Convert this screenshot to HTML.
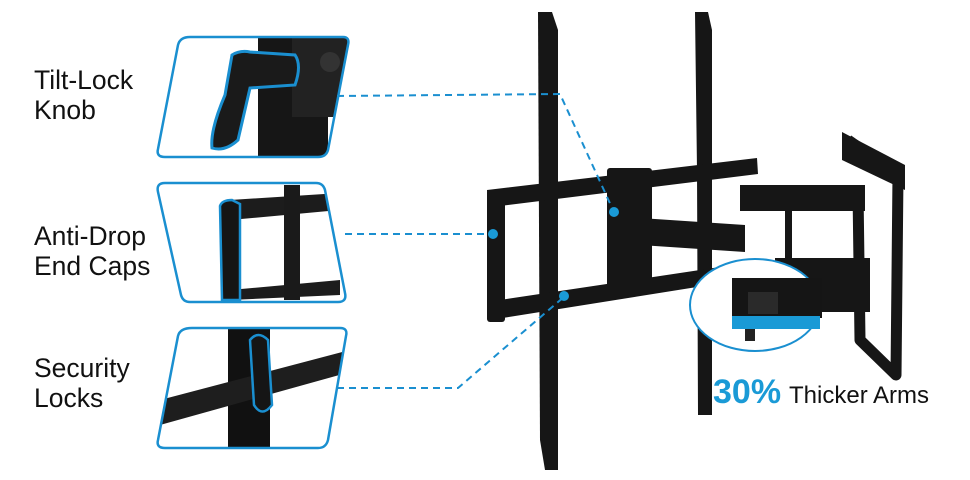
<!DOCTYPE html>
<html><head><meta charset="utf-8"><style>
html,body{margin:0;padding:0;background:#fff;}
svg{display:block;}
text{font-family:"Liberation Sans",sans-serif;}
</style></head><body>
<svg width="970" height="480" viewBox="0 0 970 480" xmlns="http://www.w3.org/2000/svg">
<defs>
<clipPath id="c1"><path d="M190 37 H343 Q350 37 348 45 L328 150 Q326 157 318 157 H165 Q156 157 158 149 L178 45 Q180 37 190 37Z"/></clipPath>
<clipPath id="c2"><path d="M165 183 H316 Q323 183 325 190 L345 293 Q347 302 338 302 H190 Q183 302 181 295 L158 192 Q156 183 165 183Z"/></clipPath>
<clipPath id="c3"><path d="M192 328 H340 Q348 328 346 336 L328 440 Q326 448 318 448 H165 Q156 448 158 440 L178 336 Q180 328 192 328Z"/></clipPath>
</defs>
<g font-size="26.5" fill="#111">
<text x="34" y="89">Tilt-Lock</text><text x="34" y="119">Knob</text>
<text x="34" y="245">Anti-Drop</text><text x="34" y="275">End Caps</text>
<text x="34" y="377">Security</text><text x="34" y="407">Locks</text>
</g>
<g clip-path="url(#c1)">
<rect x="258" y="37" width="70" height="120" fill="#161616"/>
<rect x="292" y="37" width="60" height="80" fill="#222"/>
<circle cx="330" cy="62" r="10" fill="#333"/>
<path d="M232 55 Q240 50 250 52 L295 55 Q302 65 295 85 L250 88 L238 140 Q225 152 212 148 Q210 130 225 95 Z" fill="#1a1a1a" stroke="#1a8fd0" stroke-width="3"/>
</g>
<path d="M190 37 H343 Q350 37 348 45 L328 150 Q326 157 318 157 H165 Q156 157 158 149 L178 45 Q180 37 190 37Z" fill="none" stroke="#1a8fd0" stroke-width="2.5"/>
<g clip-path="url(#c2)">
<path d="M230 200 L340 193 L340 210 L230 220Z" fill="#1c1c1c"/>
<path d="M230 290 L340 280 L340 295 L230 300Z" fill="#1c1c1c"/>
<rect x="284" y="185" width="16" height="115" fill="#1a1a1a"/>
<path d="M220 206 Q222 200 232 200 L240 204 L240 300 L222 300 Z" fill="#151515" stroke="#1a8fd0" stroke-width="2.5"/>
</g>
<path d="M165 183 H316 Q323 183 325 190 L345 293 Q347 302 338 302 H190 Q183 302 181 295 L158 192 Q156 183 165 183Z" fill="none" stroke="#1a8fd0" stroke-width="2.5"/>
<g clip-path="url(#c3)">
<rect x="228" y="328" width="42" height="120" fill="#111"/>
<path d="M160 400 L350 350 L350 372 L160 425Z" fill="#1e1e1e"/>
<path d="M250 340 Q258 330 268 340 L272 405 Q262 418 254 405 Z" fill="#151515" stroke="#1a8fd0" stroke-width="2.5"/>
</g>
<path d="M192 328 H340 Q348 328 346 336 L328 440 Q326 448 318 448 H165 Q156 448 158 440 L178 336 Q180 328 192 328Z" fill="none" stroke="#1a8fd0" stroke-width="2.5"/>
<g fill="#161616">
<path d="M538 12 L552 12 L558 30 L558 470 L545 470 L540 440 Z"/>
<path d="M695 12 L708 12 L712 30 L712 415 L698 415 L697 170Z"/>
<path d="M487 190 L757 158 L758 174 L500 206 L500 300 L720 267 L722 283 L490 320 Z"/>
<rect x="487" y="190" width="18" height="132" rx="3"/>
<rect x="607" y="168" width="45" height="122" rx="3"/>
<path d="M640 218 L745 225 L745 252 L640 245Z"/>
<rect x="740" y="185" width="125" height="26"/>
<rect x="775" y="258" width="95" height="20"/>
<rect x="730" y="276" width="140" height="36"/>
<rect x="785" y="210" width="7" height="70"/>
</g>
<g fill="none" stroke="#161616" stroke-width="11" stroke-linejoin="round">
<path d="M848 140 L898 175 L896 375 L860 340 L858 190"/>
</g>
<g fill="#161616"><path d="M842 132 L905 165 L905 190 L842 160Z"/></g>
<ellipse cx="755" cy="305" rx="65" ry="46" fill="#fff" stroke="#1a8fd0" stroke-width="2"/>
<rect x="732" y="278" width="90" height="40" fill="#151515"/>
<rect x="748" y="292" width="30" height="22" fill="#2a2a2a"/>
<rect x="732" y="316" width="88" height="13" fill="#1a9ad6"/>
<rect x="745" y="329" width="10" height="12" fill="#222"/>
<g stroke="#1a8fd0" stroke-width="2" stroke-dasharray="7 5" fill="none">
<path d="M337 96 L560 94 L613 210"/>
<path d="M345 234 L492 234"/>
<path d="M337 388 L458 388 L565 296"/>
</g>
<g fill="#1a9ad6"><circle cx="614" cy="212" r="5"/><circle cx="493" cy="234" r="5"/><circle cx="564" cy="296" r="5"/></g>
<text x="713" y="403" font-size="34" font-weight="bold" fill="#1a9ad6">30%</text>
<text x="789" y="403" font-size="24" fill="#111">Thicker Arms</text>
</svg>
</body></html>
